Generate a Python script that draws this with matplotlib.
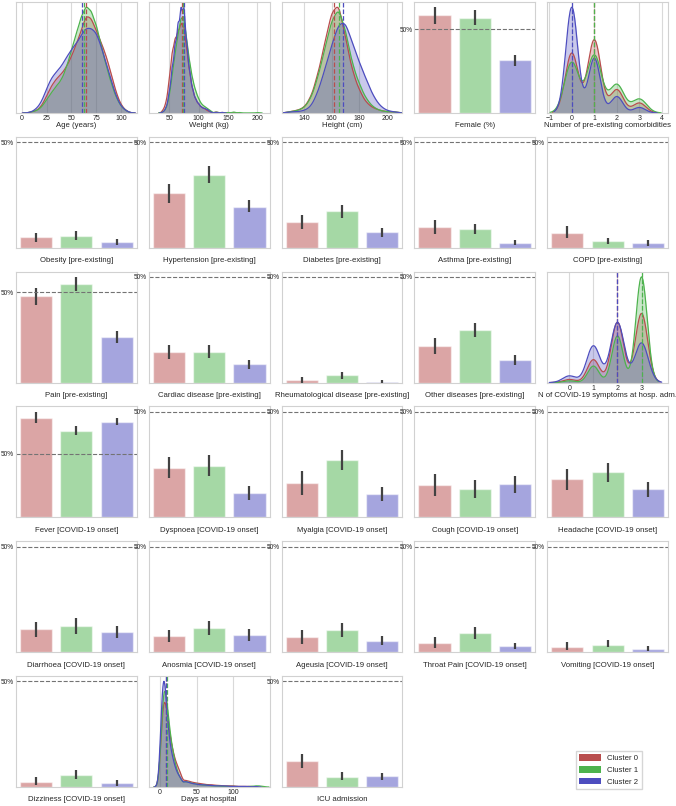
import matplotlib
matplotlib.use('Agg')
import matplotlib.pyplot as plt
from matplotlib.patches import Patch
import seaborn as sns
import numpy as np

sns.set_style('whitegrid')
plt.rcParams['font.family'] = ['Liberation Sans', 'DejaVu Sans']

cores = [(0.72, 0.30, 0.30), (0.30, 0.70, 0.30), (0.30, 0.30, 0.75)]
clusters = ['Cluster 0', 'Cluster 1', 'Cluster 2']

# distribuicoes: contagens de pacientes por valor, por cluster
idade_x = [10, 15, 20, 25, 30, 35, 40, 45, 50, 55, 60, 65, 70, 75, 80, 85, 90, 95, 100, 105]
idade_c0 = [1, 2, 6, 15, 24, 30, 34, 40, 49, 60, 72, 86, 83, 72, 62, 50, 35, 18, 7, 2]
idade_c1 = [1, 2, 5, 12, 18, 24, 29, 40, 55, 70, 85, 95, 90, 78, 60, 42, 27, 14, 6, 2]
idade_c2 = [1, 4, 10, 22, 32, 37, 42, 50, 57, 62, 70, 77, 76, 73, 60, 45, 30, 15, 6, 2]
idade_med = [65, 63, 61]

peso_x = [40, 45, 50, 55, 60, 65, 70, 75, 80, 85, 90, 95, 100, 105, 110, 115, 120, 130, 140, 150, 160, 170, 180, 190, 200]
peso_c0 = [6, 20, 60, 110, 132, 144, 160, 156, 110, 70, 40, 24, 16, 10, 8, 4, 2, 2, 1, 1, 1, 0, 0, 0, 0]
peso_c1 = [2, 8, 30, 70, 110, 144, 176, 176, 130, 90, 60, 40, 26, 16, 12, 8, 4, 2, 1, 1, 2, 1, 0, 0, 1]
peso_c2 = [2, 10, 36, 80, 120, 156, 184, 186, 120, 70, 40, 24, 16, 10, 8, 6, 2, 1, 1, 0, 0, 0, 0, 0, 0]
peso_med = [72, 74, 75]

altura_x = [130, 135, 140, 145, 150, 155, 160, 165, 170, 175, 180, 185, 190, 195, 200, 205]
altura_c0 = [1, 2, 4, 12, 30, 55, 80, 88, 60, 33, 18, 8, 4, 2, 1, 1]
altura_c1 = [1, 2, 4, 12, 30, 55, 80, 92, 72, 42, 25, 12, 5, 2, 1, 1]
altura_c2 = [1, 1, 2, 5, 18, 38, 60, 80, 82, 62, 45, 30, 15, 6, 2, 1]
altura_med = [162, 165, 168]

comorb_x = [0, 1, 2, 3]
comorb_c0 = [108, 132, 42, 18]
comorb_c1 = [98, 112, 55, 27]
comorb_c2 = [174, 90, 27, 9]
comorb_med = [1, 1, 0]

sint_x = [0, 1, 2, 3]
sint_c0 = [6, 44, 116, 133]
sint_c1 = [3, 29, 82, 186]
sint_c2 = [14, 77, 126, 83]
sint_med = [2, 3, 2]

dias_x = [0, 2, 4, 6, 8, 10, 12, 14, 16, 18, 20, 22, 24, 26, 28, 30, 35, 40, 45, 50, 55, 60, 65, 70,
          75, 80, 85, 90, 95, 100, 105, 110, 115, 120, 125, 130, 135, 140]
dias_c0 = [10, 40, 65, 70, 62, 50, 42, 35, 30, 25, 20, 17, 15, 13, 10, 8, 12, 10, 8, 7, 6, 5, 4, 4,
           3, 3, 2, 2, 2, 2, 1, 1, 1, 1, 1, 0, 0, 0]
dias_c1 = [8, 40, 70, 79, 72, 58, 45, 38, 30, 24, 18, 14, 10, 8, 6, 5, 10, 8, 6, 5, 4, 3, 3, 2,
           2, 2, 1, 1, 1, 1, 1, 0, 0, 1, 1, 2, 2, 1]
dias_c2 = [15, 60, 90, 90, 70, 50, 38, 30, 25, 20, 16, 12, 10, 8, 7, 6, 10, 8, 6, 5, 4, 4, 3, 3,
           2, 2, 2, 2, 1, 1, 1, 1, 1, 1, 0, 1, 0, 0]
dias_med = [9, 9.5, 8]

# barras: proporcao e intervalo por cluster
barras_nomes = ['Female (%)', 'Obesity [pre-existing]', 'Hypertension [pre-existing]', 'Diabetes [pre-existing]',
                'Asthma [pre-existing]', 'COPD [pre-existing]', 'Pain [pre-existing]', 'Cardiac disease [pre-existing]',
                'Rheumatological disease [pre-existing]', 'Other diseases [pre-existing]', 'Fever [COVID-19 onset]',
                'Dyspnoea [COVID-19 onset]', 'Myalgia [COVID-19 onset]', 'Cough [COVID-19 onset]',
                'Headache [COVID-19 onset]', 'Diarrhoea [COVID-19 onset]', 'Anosmia [COVID-19 onset]',
                'Ageusia [COVID-19 onset]', 'Throat Pain [COVID-19 onset]', 'Vomiting [COVID-19 onset]',
                'Dizziness [COVID-19 onset]', 'ICU admission']
prop_c0 = [.582, .049, .259, .123, .098, .072, .478, .143, .012, .172, .785, .234, .163, .154, .182, .109, .076, .071, .043, .025, .025, .121]
prop_c1 = [.568, .055, .345, .172, .087, .032, .549, .147, .035, .249, .684, .244, .272, .135, .215, .123, .114, .104, .090, .036, .057, .049]
prop_c2 = [.318, .027, .195, .074, .022, .022, .253, .087, .005, .105, .754, .116, .111, .158, .135, .095, .080, .052, .028, .014, .019, .051]
inf_c0 = [.533, .025, .214, .088, .065, .044, .431, .110, .0, .134, .741, .187, .106, .102, .130, .071, .047, .038, .019, .009, .008, .091]
sup_c0 = [.631, .072, .303, .155, .132, .101, .527, .178, .028, .213, .832, .286, .220, .206, .229, .142, .104, .104, .071, .049, .045, .155]
inf_c1 = [.525, .036, .306, .142, .065, .016, .509, .118, .019, .216, .651, .196, .225, .092, .168, .085, .080, .071, .061, .025, .037, .034]
sup_c1 = [.612, .079, .388, .203, .112, .046, .586, .176, .052, .284, .723, .296, .319, .177, .258, .161, .147, .137, .118, .057, .081, .073]
inf_c2 = [.282, .014, .167, .053, .011, .010, .222, .063, .0, .083, .729, .083, .078, .116, .097, .066, .052, .033, .017, .005, .006, .034]
sup_c2 = [.349, .041, .226, .093, .038, .038, .286, .107, .010, .131, .785, .149, .144, .196, .168, .123, .109, .076, .044, .028, .031, .068]


def densidade(ax, nome, x, contagens, medianas, bw, xlim, xticks):
    for i in range(3):
        amostra = np.repeat(x, contagens[i])
        sns.kdeplot(x=amostra, bw_method=bw, ax=ax, color=cores[i], fill=True, alpha=0.3, linewidth=0)
        sns.kdeplot(x=amostra, bw_method=bw, ax=ax, color=cores[i], linewidth=0.9)
    topo = max(max(l.get_ydata()) for l in ax.lines)
    for i in range(3):
        ax.axvline(medianas[i], color=cores[i], ls='--', lw=0.9)
    ax.set_ylim(0, topo * 1.05)
    ax.set_xlim(xlim)
    ax.set_xticks(xticks)
    ax.set_yticks([])
    ax.set_ylabel('')
    ax.set_xlabel(nome)


def barras(ax, k):
    vals = [prop_c0[k], prop_c1[k], prop_c2[k]]
    inf = [inf_c0[k], inf_c1[k], inf_c2[k]]
    sup = [sup_c0[k], sup_c1[k], sup_c2[k]]
    ax.bar(range(3), vals, width=0.8, color=cores, alpha=0.5)
    for i in range(3):
        ax.plot([i, i], [inf[i], sup[i]], color='0.26', lw=1.6, solid_capstyle='butt')
    ax.plot([-0.5, 2.5], [0.5, 0.5], '--', color='0.45', lw=0.8)
    ax.set_xlim(-0.5, 2.5)
    ax.set_ylim(0, max(0.5, max(sup)) * 1.05)
    ax.set_yticks([0.5])
    ax.set_yticklabels(['50%'])
    ax.set_xticks([])
    ax.grid(False)
    ax.set_xlabel(barras_nomes[k])


fig, axes = plt.subplots(6, 5, figsize=(6.76, 8.06), dpi=100)
fig.subplots_adjust(left=16/676, right=668/676, top=1-2/806, bottom=1-787/806, wspace=0.1, hspace=0.215)

densidade(axes[0, 0], 'Age (years)', idade_x, [idade_c0, idade_c1, idade_c2], idade_med, 0.17, (-6, 116), [0, 25, 50, 75, 100])
densidade(axes[0, 1], 'Weight (kg)', peso_x, [peso_c0, peso_c1, peso_c2], peso_med, 0.18, (15, 221), [50, 100, 150, 200])
densidade(axes[0, 2], 'Height (cm)', altura_x, [altura_c0, altura_c1, altura_c2], altura_med, 0.27, (124, 211), [140, 160, 180, 200])
barras(axes[0, 3], 0)
densidade(axes[0, 4], 'Number of pre-existing comorbidities', comorb_x, [comorb_c0, comorb_c1, comorb_c2], comorb_med, 0.34, (-1.09, 4.27), [-1, 0, 1, 2, 3, 4])

k = 1
for r, c in [(1, 0), (1, 1), (1, 2), (1, 3), (1, 4), (2, 0), (2, 1), (2, 2), (2, 3)]:
    barras(axes[r, c], k)
    k += 1
densidade(axes[2, 4], 'N of COVID-19 symptoms at hosp. adm.', sint_x, [sint_c0, sint_c1, sint_c2], sint_med, 0.33, (-0.92, 4.1), [0, 1, 2, 3])
for r in [3, 4]:
    for c in range(5):
        barras(axes[r, c], k)
        k += 1
barras(axes[5, 0], k)
densidade(axes[5, 1], 'Days at hospital', dias_x, [dias_c0, dias_c1, dias_c2], dias_med, 0.14, (-15, 149), [0, 50, 100])
barras(axes[5, 2], k + 1)
axes[5, 3].axis('off')
axes[5, 4].axis('off')

for ax in axes.flat:
    for s in ax.spines.values():
        s.set_color('0.82')
        s.set_linewidth(0.8)
    ax.tick_params(axis='x', labelsize=5, pad=1.5, length=0)
    ax.tick_params(axis='y', labelsize=4.7, pad=1.5, length=0)
    ax.grid(axis='x', color='0.85', lw=0.8)
    ax.xaxis.label.set_size(5.6)
    ax.xaxis.set_label_coords(0.5, -0.085)

alcas = [Patch(facecolor=cores[i], edgecolor='none') for i in range(3)]
fig.legend(alcas, clusters, loc='center', bbox_to_anchor=(609/676, 1-770/806), fontsize=5.6,
           fancybox=False, edgecolor='0.8', handlelength=2.8, handleheight=0.9)

fig.savefig('out.png', dpi=100)
